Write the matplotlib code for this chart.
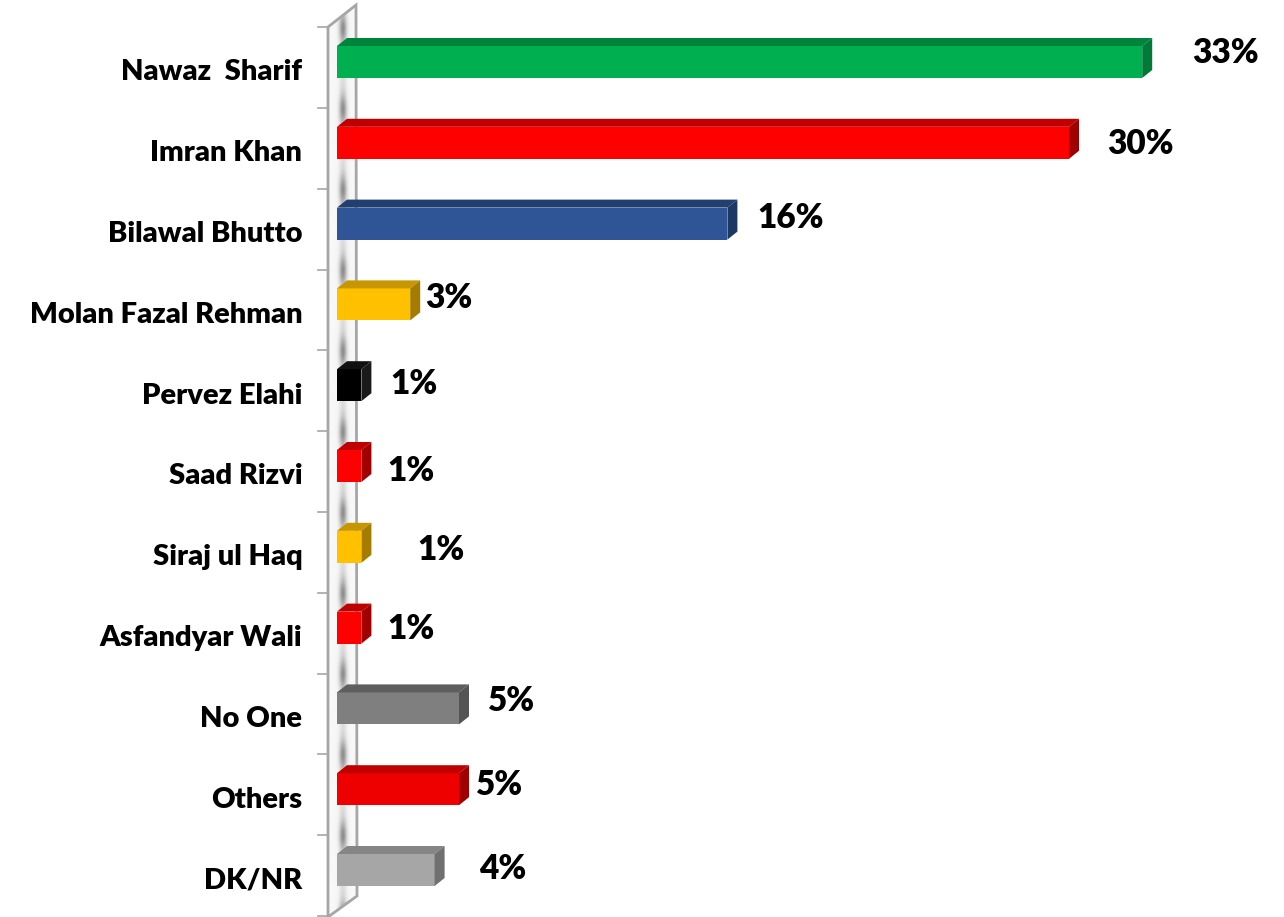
import numpy as np
import matplotlib
matplotlib.use("Agg")
import matplotlib.pyplot as plt
from matplotlib.patches import Polygon

# data
names = ["Nawaz  Sharif", "Imran Khan", "Bilawal Bhutto", "Molan Fazal Rehman",
         "Pervez Elahi", "Saad Rizvi", "Siraj ul Haq", "Asfandyar Wali",
         "No One", "Others", "DK/NR"]
shares = [33, 30, 16, 3, 1, 1, 1, 1, 5, 5, 4]
value_labels = ["33%", "30%", "16%", "3%", "1%", "1%", "1%", "1%", "5%", "5%", "4%"]

# styling: front / top / side colours
front_cols = ["#00B050", "#FF0000", "#2F5597", "#FFC000", "#000000", "#FF0000",
              "#FFC000", "#FF0000", "#7F7F7F", "#EE0000", "#A6A6A6"]
top_cols = ["#00843C", "#C00000", "#22406F", "#C89600", "#111111", "#C00000",
            "#C89600", "#C00000", "#5E5E5E", "#C00000", "#858585"]
side_cols = ["#007A37", "#A00000", "#1E3864", "#A67C00", "#1A1A1A", "#A00000",
             "#A67C00", "#A00000", "#545454", "#A00000", "#707070"]
# manual label nudges (pixels)
label_dx = [40, 28, 20, 5, 19, 16, 46, 16, 19, 7, 34]
label_dy = [-17, -7, -14, -14, -9, -3, -5, -7, -15, -12, -9]

W, H = 1284, 917
PX_PER_PCT = 24.4
ROW = 80.8
X0, Y0 = 337, 70  # pixel of value 0 / first category centre

fig = plt.figure(figsize=(W / 100, H / 100), dpi=100)
fig.patch.set_facecolor("white")

# background axes in pixel coords for the side wall
bg = fig.add_axes([0, 0, 1, 1])
bg.set_xlim(0, W)
bg.set_ylim(H, 0)
bg.axis("off")

wall = [(328, 27), (356, 5), (357, 896), (328, 917)]
wall_patch = Polygon(wall, closed=True, facecolor="none", edgecolor="#A6A6A6",
                     lw=2, zorder=3)
bg.add_patch(wall_patch)
xs = np.linspace(326, 359, 66)
ys = np.linspace(3, 917, 915)
gx, gy = np.meshgrid(xs, ys)
bounds = 28 + ROW * np.arange(-1, 13)
dist = np.min(np.abs(gy[..., None] - bounds[None, None, :]), axis=-1)
shade = 0.97 - 0.42 * np.exp(-((gx - 343) / 3.8) ** 2) * (0.25 + 0.75 * np.exp(-(dist / 14) ** 2))
img = bg.imshow(shade, cmap="gray", vmin=0, vmax=1, extent=(326, 359, 917, 3),
                aspect="auto", zorder=2, interpolation="bilinear")
clip = Polygon(wall, closed=True, transform=bg.transData)
img.set_clip_path(clip)

# main axes for bars
ax = fig.add_axes([X0 / W, 0, (W - X0) / W, 1])
ax.set_facecolor("none")
ax.set_xlim(0, (W - X0) / PX_PER_PCT)
ax.set_ylim((H - Y0) / ROW, -Y0 / ROW)
for s in ax.spines.values():
    s.set_visible(False)
ax.set_xticks([])

ypos = np.arange(len(names))
bar_h = 32 / ROW
shift = -8 / ROW
dx = 10 / PX_PER_PCT
dy = 8 / ROW
yc = ypos + shift
ax.barh(yc, shares, height=bar_h, color=front_cols, edgecolor="none", zorder=4)
for i, v in enumerate(shares):
    yt = yc[i] - bar_h / 2
    yb = yc[i] + bar_h / 2
    ax.add_patch(Polygon([(0, yt), (dx, yt - dy), (v + dx, yt - dy), (v, yt)],
                         facecolor=top_cols[i], edgecolor="none", zorder=4))
    ax.add_patch(Polygon([(v, yt), (v + dx, yt - dy), (v + dx, yb - dy), (v, yb)],
                         facecolor=side_cols[i], edgecolor="none", zorder=4))
    ax.annotate(value_labels[i], xy=(v + dx, ypos[i]),
                xytext=(label_dx[i] * 0.72, -label_dy[i] * 0.72),
                textcoords="offset points", ha="left", va="center",
                fontsize=24, fontweight="heavy", family=["Lato", "DejaVu Sans"],
                annotation_clip=False)

# category ticks on the wall
for b in np.arange(len(names) + 1) - 0.5 - 0.03:
    ax.plot([-19 / PX_PER_PCT, -9 / PX_PER_PCT], [b, b], color="#A6A6A6",
            lw=1.2, clip_on=False, zorder=3)

ax.set_yticks(ypos)
ax.set_yticklabels(names, fontsize=21, fontweight="heavy",
                   family=["Lato", "DejaVu Sans"])
ax.tick_params(axis="y", length=0, pad=25)

fig.savefig("out.png", dpi=100, facecolor="white")
